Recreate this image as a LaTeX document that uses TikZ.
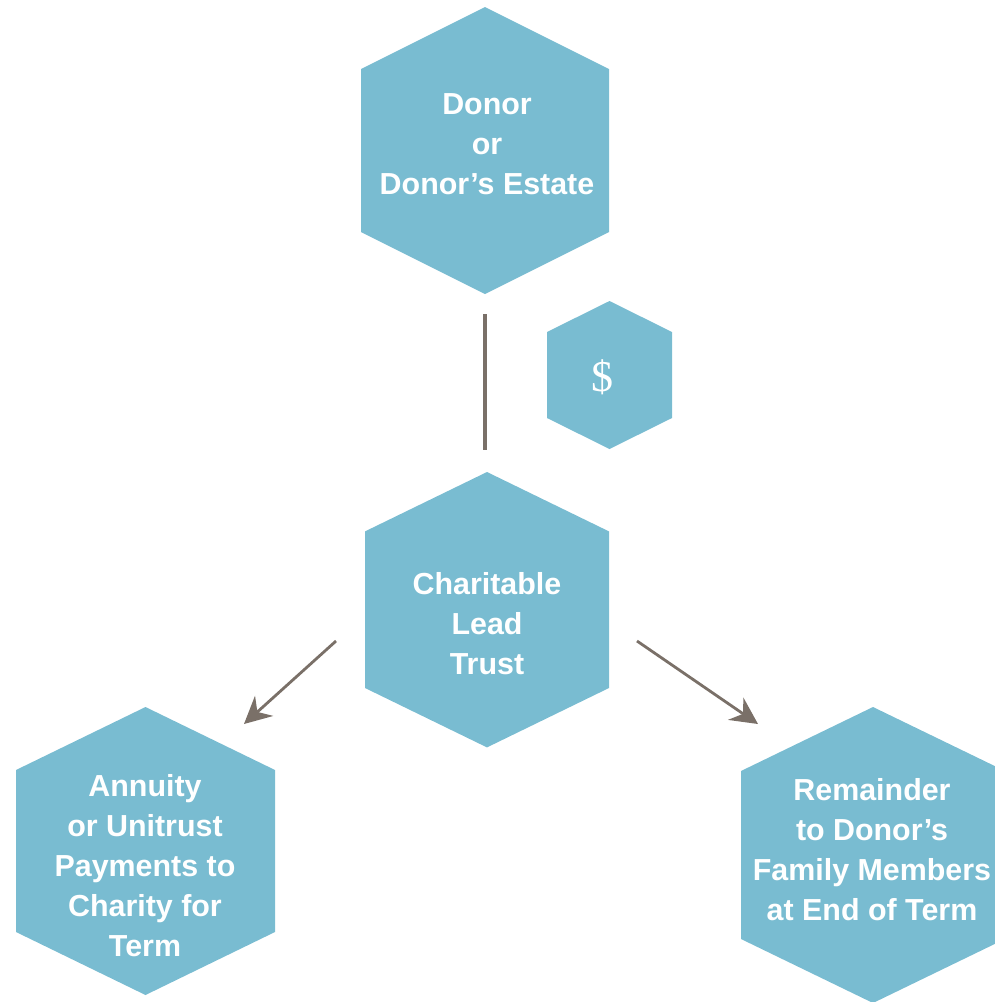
\documentclass[tikz,border=0pt]{standalone}
\usepackage{fontspec}
\setmainfont{Liberation Sans}
\newfontfamily\dollarfont{Liberation Serif}
\usetikzlibrary{arrows.meta}
\definecolor{hexcol}{RGB}{121,188,209}
\definecolor{linecol}{RGB}{122,112,104}
\tikzset{
  hexlabel/.style={text=white, font=\bfseries\fontsize{30.4}{40}\selectfont, align=center, inner sep=0pt},
  flowline/.style={draw=linecol, line width=3.2pt},
  flowarrow/.style={draw=linecol, line width=2.8pt, -{Stealth[length=27pt, width=27pt, inset=9pt]}}
}
\newcommand\hexshape[5]{%
  \fill[hexcol] (#1,{#2-#4}) -- ({#1+#3},{#2-#5}) -- ({#1+#3},{#2+#5}) -- (#1,{#2+#4}) -- ({#1-#3},{#2+#5}) -- ({#1-#3},{#2-#5}) -- cycle;}
\begin{document}
\begin{tikzpicture}[x=1pt,y=-1pt]
\useasboundingbox (0,0) rectangle (995,1002);
% hexagons: cx, cy, half-width, half-height, corner offset
\hexshape{485}{150.5}{124}{143.5}{81.5}
\hexshape{609.5}{375}{62.5}{74}{43}
\hexshape{487}{609.7}{122}{137.7}{78.3}
\hexshape{145.5}{851}{129.5}{144}{81}
\hexshape{873}{855}{132}{148}{84}
% labels
\node[hexlabel] (donor) at (487,144) {Donor\\or\\Donor’s Estate};
\node[text=white, inner sep=0pt, font=\dollarfont\fontsize{44}{44}\selectfont] (dollar) at (602,377) {\$};
\node[hexlabel] (trust) at (487,624) {Charitable\\Lead\\Trust};
\node[hexlabel] (annuity) at (145,866) {Annuity\\or Unitrust\\Payments to\\Charity for\\Term};
\node[hexlabel] (remainder) at (872,850) {Remainder\\to Donor’s\\Family Members\\at End of Term};
% connectors
\coordinate (l1) at (485,314);
\coordinate (l2) at (485,450);
\coordinate (a1s) at (336,641);
\coordinate (a1e) at (244,724);
\coordinate (a2s) at (637,641);
\coordinate (a2e) at (758,724);
\draw[flowline] (l1) -- (l2);
\draw[flowarrow] (a1s) -- (a1e);
\draw[flowarrow] (a2s) -- (a2e);
\end{tikzpicture}
\end{document}
